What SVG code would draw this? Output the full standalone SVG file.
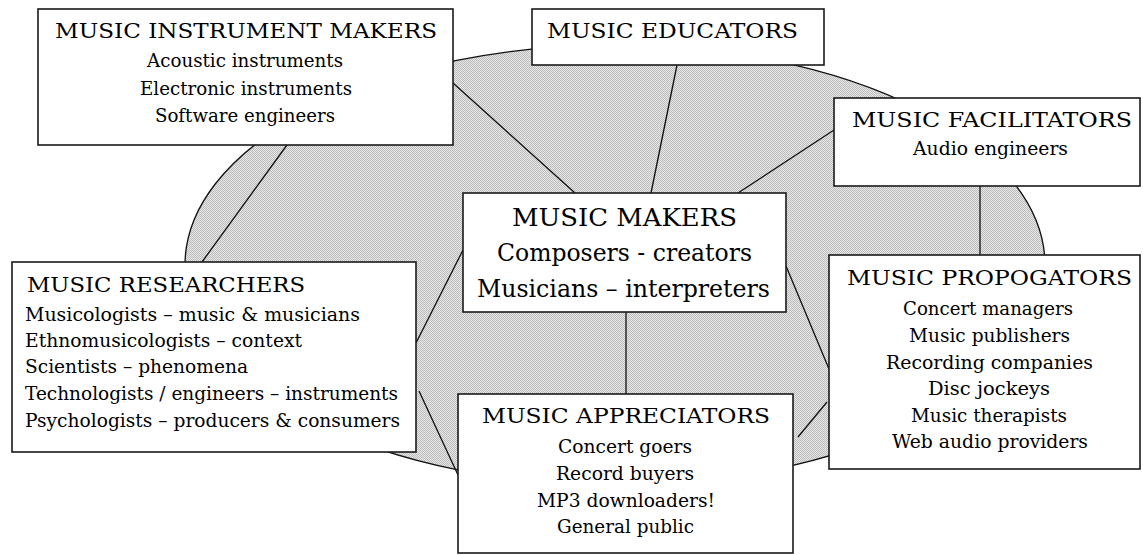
<svg xmlns="http://www.w3.org/2000/svg" width="1143" height="555" viewBox="0 0 1143 555">
  <defs>
    <!-- fine two-tone stipple used for the central oval -->
    <pattern id="stipple" width="2" height="2" patternUnits="userSpaceOnUse">
      <rect width="2" height="2" fill="#e6e6e6"/>
      <rect x="0" y="0" width="1" height="1" fill="#bdbdbd"/>
      <rect x="1" y="1" width="1" height="1" fill="#bdbdbd"/>
    </pattern>
  </defs>
  <style>
    .box { fill: #ffffff; stroke: #1a1a1a; stroke-width: 1.6; }
    .link { stroke: #111111; stroke-width: 1.3; fill: none; }
    text { font-family: "DejaVu Serif", "Liberation Serif", serif; fill: #000000; }
    .head { font-size: 21px; }
    .item { font-size: 18px; }
    .big { font-size: 25px; }
  </style>

  <rect width="1143" height="555" fill="#ffffff"/>

  <!-- shared domain -->
  <ellipse id="field" cx="615" cy="265" rx="430" ry="220" fill="url(#stipple)" stroke="#111111" stroke-width="1.3"/>

  <g id="connectors">
    <line class="link" x1="453" y1="83" x2="575" y2="193"/>
    <line class="link" x1="677" y1="65" x2="651" y2="193"/>
    <line class="link" x1="834" y1="130" x2="738" y2="193"/>
    <line class="link" x1="287" y1="145" x2="202" y2="262"/>
    <line class="link" x1="980" y1="186" x2="980" y2="255"/>
    <line class="link" x1="626" y1="312" x2="626" y2="394"/>
    <line class="link" x1="416" y1="343" x2="463" y2="250"/>
    <line class="link" x1="419" y1="391" x2="458" y2="475"/>
    <line class="link" x1="786" y1="266" x2="829" y2="369"/>
    <line class="link" x1="827" y1="402" x2="798" y2="437"/>
  </g>

  <g id="instrument-makers">
    <rect class="box" x="38" y="9" width="415" height="136"/>
    <text class="head" x="55" y="38" textLength="382" lengthAdjust="spacingAndGlyphs">MUSIC INSTRUMENT MAKERS</text>
    <text class="item" x="147" y="67" textLength="196" lengthAdjust="spacingAndGlyphs">Acoustic instruments</text>
    <text class="item" x="140" y="95" textLength="212" lengthAdjust="spacingAndGlyphs">Electronic instruments</text>
    <text class="item" x="155" y="122" textLength="180" lengthAdjust="spacingAndGlyphs">Software engineers</text>
  </g>

  <g id="educators">
    <rect class="box" x="532" y="9" width="292" height="56"/>
    <text class="head" x="547" y="38" textLength="251" lengthAdjust="spacingAndGlyphs">MUSIC EDUCATORS</text>
  </g>

  <g id="facilitators">
    <rect class="box" x="834" y="98" width="306" height="88"/>
    <text class="head" x="852" y="127" textLength="280" lengthAdjust="spacingAndGlyphs">MUSIC FACILITATORS</text>
    <text class="item" x="913" y="155" textLength="155" lengthAdjust="spacingAndGlyphs">Audio engineers</text>
  </g>

  <g id="makers">
    <rect class="box" x="463" y="193" width="323" height="119"/>
    <text class="big" x="512" y="226" textLength="225" lengthAdjust="spacingAndGlyphs">MUSIC MAKERS</text>
    <text class="big" x="497" y="261" textLength="255" lengthAdjust="spacingAndGlyphs">Composers - creators</text>
    <text class="big" x="477" y="297" textLength="293" lengthAdjust="spacingAndGlyphs">Musicians – interpreters</text>
  </g>

  <g id="researchers">
    <rect class="box" x="12" y="262" width="404" height="190"/>
    <text class="head" x="27" y="292" textLength="278" lengthAdjust="spacingAndGlyphs">MUSIC RESEARCHERS</text>
    <text class="item" x="25" y="321" textLength="335" lengthAdjust="spacingAndGlyphs">Musicologists – music &amp; musicians</text>
    <text class="item" x="25" y="347" textLength="277" lengthAdjust="spacingAndGlyphs">Ethnomusicologists – context</text>
    <text class="item" x="25" y="373" textLength="223" lengthAdjust="spacingAndGlyphs">Scientists – phenomena</text>
    <text class="item" x="25" y="400" textLength="373" lengthAdjust="spacingAndGlyphs">Technologists / engineers – instruments</text>
    <text class="item" x="25" y="427" textLength="375" lengthAdjust="spacingAndGlyphs">Psychologists – producers &amp; consumers</text>
  </g>

  <g id="propogators">
    <rect class="box" x="829" y="255" width="311" height="214"/>
    <text class="head" x="847" y="285" textLength="285" lengthAdjust="spacingAndGlyphs">MUSIC PROPOGATORS</text>
    <text class="item" x="903" y="315" textLength="170" lengthAdjust="spacingAndGlyphs">Concert managers</text>
    <text class="item" x="909" y="342" textLength="161" lengthAdjust="spacingAndGlyphs">Music publishers</text>
    <text class="item" x="886" y="369" textLength="207" lengthAdjust="spacingAndGlyphs">Recording companies</text>
    <text class="item" x="928" y="395" textLength="122" lengthAdjust="spacingAndGlyphs">Disc jockeys</text>
    <text class="item" x="911" y="422" textLength="156" lengthAdjust="spacingAndGlyphs">Music therapists</text>
    <text class="item" x="892" y="448" textLength="196" lengthAdjust="spacingAndGlyphs">Web audio providers</text>
  </g>

  <g id="appreciators">
    <rect class="box" x="458" y="394" width="335" height="159"/>
    <text class="head" x="482" y="423" textLength="288" lengthAdjust="spacingAndGlyphs">MUSIC APPRECIATORS</text>
    <text class="item" x="558" y="453" textLength="134" lengthAdjust="spacingAndGlyphs">Concert goers</text>
    <text class="item" x="556" y="480" textLength="138" lengthAdjust="spacingAndGlyphs">Record buyers</text>
    <text class="item" x="537" y="507" textLength="178" lengthAdjust="spacingAndGlyphs">MP3 downloaders!</text>
    <text class="item" x="557" y="533" textLength="137" lengthAdjust="spacingAndGlyphs">General public</text>
  </g>
</svg>
